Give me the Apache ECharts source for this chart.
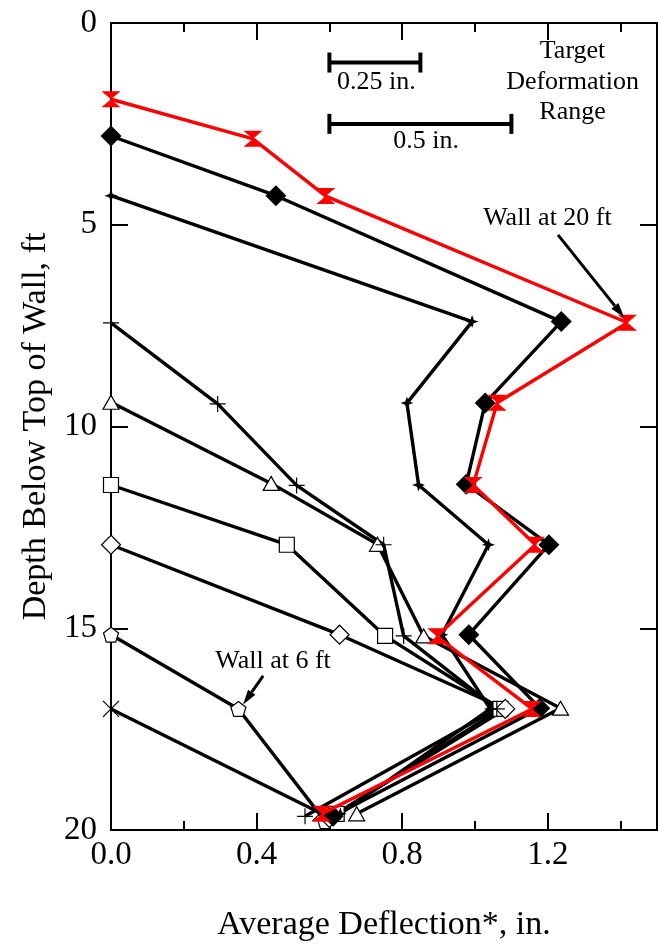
<!DOCTYPE html>
<html><head><meta charset="utf-8">
<script src="https://cdn.jsdelivr.net/npm/echarts@6/dist/echarts.min.js"></script>
<style>html,body{margin:0;padding:0;background:#fff}#c{width:658px;height:947px}</style>
</head><body><div id="c"></div>
<script>
// Depth (ft) and average deflection (in.) per wall series
const wall20X = [0, 0.39, 0.59, 1.419, 1.061, 0.995, 1.166, 0.895, 1.157, 0.579];
const wall20Y = [1.89, 2.87, 4.29, 7.43, 9.41, 11.45, 12.93, 15.2, 17.0, 19.6];
const bigDiamondX = [0, 0.453, 1.237, 1.028, 0.976, 1.203, 0.983, 1.178, 0.61];
const bigDiamondY = [2.80, 4.28, 7.40, 9.42, 11.43, 12.93, 15.16, 16.98, 19.66];
const starX = [0, 0.992, 0.813, 0.845, 1.037, 0.909, 1.042, 0.63];
const starY = [4.28, 7.40, 9.42, 11.45, 12.93, 15.16, 17.0, 19.6];
const plusX = [0, 0.293, 0.51, 0.749, 0.804, 1.06, 0.533];
const plusY = [7.43, 9.44, 11.46, 12.93, 15.19, 17.0, 19.66];
const triX = [0, 0.44, 0.732, 0.859, 1.235, 0.675];
const triY = [9.40, 11.41, 12.92, 15.19, 16.98, 19.6];
const squareX = [0, 0.483, 0.753, 1.07, 0.62];
const squareY = [11.45, 12.93, 15.19, 17.0, 19.6];
const openDiamondX = [0, 0.628, 1.083, 0.60];
const openDiamondY = [12.93, 15.16, 17.0, 19.7];
const pentX = [0, 0.35, 0.588];
const pentY = [15.16, 17.0, 19.78];
const crossX = [0, 0.575];
const crossY = [17.0, 19.58];

const xTicks = {min: 0, max: 1.5, interval: 0.4};
const yTicks = {min: 0, max: 20, interval: 5};

// annotation anchors in data units
const bar25 = {x0: 0.6, x1: 0.85, y: 0.98, text: '0.25 in.', tx: 0.729, ty: 1.47};
const bar50 = {x0: 0.6, x1: 1.1, y: 2.5, text: '0.5 in.', tx: 0.866, ty: 2.94};
const targetText = {x: 1.268, ys: [0.71, 1.47, 2.21], lines: ['Target', 'Deformation', 'Range']};
const wall20Note = {text: 'Wall at 20 ft', tx: 1.199, ty: 4.83, ax0: 1.228, ay0: 5.25, ax1: 1.41, ay1: 7.3};
const wall6Note = {text: 'Wall at 6 ft', tx: 0.445, ty: 15.81, ax0: 0.418, ay0: 16.18, ax1: 0.363, ay1: 16.89};

const FONT = 'Liberation Serif';
const zip = (xs, ys) => xs.map((x, i) => [x, ys[i]]);

const hourglass = 'path://M0,0 L20,0 L10,8 L20,16 L0,16 L10,8 Z';
const star4 = 'path://M10,0 L12.6,7.4 L20,10 L12.6,12.6 L10,20 L7.4,12.6 L0,10 L7.4,7.4 Z';
const pentagon = 'path://M10,0 L19.5,6.9 L15.9,18.1 L4.1,18.1 L0.5,6.9 Z';
const plusSym = 'path://M10,0 L10,20 M0,10 L20,10';
const crossSym = 'path://M0,0 L20,20 M20,0 L0,20';

function ser(name, xs, ys, symbol, size, opts) {
  opts = opts || {};
  return {
    name, type: 'line', data: zip(xs, ys), symbol, symbolSize: size,
    showAllSymbol: true, animation: false,
    lineStyle: {color: opts.line || '#000', width: 3.4},
    itemStyle: {color: opts.fill || '#000', borderColor: opts.border || (opts.fill || '#000'), borderWidth: opts.bw || 0},
    z: opts.z || 2
  };
}

const chart = echarts.init(document.getElementById('c'));
const axisLine = {show: true, onZero: false, lineStyle: {color: '#000', width: 2}};
const tick = {inside: true, length: 17, lineStyle: {color: '#000', width: 2}};
const minor = {show: true, splitNumber: 2, length: 9, lineStyle: {color: '#000', width: 2}};
chart.setOption({
  animation: false,
  backgroundColor: '#fff',
  grid: {left: 111, top: 23, right: 1, bottom: 108, containLabel: false},
  xAxis: [{
    type: 'value', min: xTicks.min, max: xTicks.max, interval: xTicks.interval, position: 'bottom',
    axisLine, splitLine: {show: false}, axisTick: tick, minorTick: minor,
    axisLabel: {color: '#000', fontFamily: FONT, fontSize: 33, margin: 9, showMaxLabel: false,
      formatter: v => v.toFixed(1)},
    name: 'Average Deflection*, in.', nameLocation: 'middle', nameGap: 78,
    nameTextStyle: {color: '#000', fontFamily: FONT, fontSize: 34}
  }, {
    type: 'value', min: xTicks.min, max: xTicks.max, interval: xTicks.interval, position: 'top',
    axisLine, splitLine: {show: false}, axisTick: tick, minorTick: minor,
    axisLabel: {show: false}
  }],
  yAxis: [{
    type: 'value', inverse: true, min: yTicks.min, max: yTicks.max, interval: yTicks.interval, position: 'left',
    axisLine, splitLine: {show: false}, axisTick: tick,
    axisLabel: {color: '#000', fontFamily: FONT, fontSize: 33, margin: 14},
    name: 'Depth Below Top of Wall, ft', nameLocation: 'middle', nameGap: 58, nameRotate: 90,
    nameTextStyle: {color: '#000', fontFamily: FONT, fontSize: 34}
  }, {
    type: 'value', inverse: true, min: yTicks.min, max: yTicks.max, interval: yTicks.interval, position: 'right',
    axisLine, splitLine: {show: false}, axisTick: tick,
    axisLabel: {show: false}
  }],
  series: [
    ser('cross', crossX, crossY, crossSym, 16, {fill: 'transparent', border: '#000', bw: 1.2}),
    ser('pentagon', pentX, pentY, pentagon, 15, {fill: '#fff', border: '#000', bw: 1.2}),
    ser('square', squareX, squareY, 'rect', 15, {fill: '#fff', border: '#000', bw: 1.2}),
    ser('openDiamond', openDiamondX, openDiamondY, 'diamond', 19, {fill: '#fff', border: '#000', bw: 1.2}),
    ser('triangle', triX, triY, 'triangle', [16, 14], {fill: '#fff', border: '#000', bw: 1.2}),
    ser('plus', plusX, plusY, plusSym, 16, {fill: 'transparent', border: '#000', bw: 1.2}),
    ser('star', starX, starY, star4, 13, {fill: '#000'}),
    ser('bigDiamond', bigDiamondX, bigDiamondY, 'diamond', 21, {fill: '#000'}),
    ser('wall20', wall20X, wall20Y, hourglass, [19, 16], {fill: '#ff0000', line: '#ff0000', z: 3})
  ]
});

function px(x, y) { return chart.convertToPixel({gridIndex: 0}, [x, y]); }
const g = [];
function textAt(t, x, y) {
  const p = px(x, y);
  g.push({type: 'text', x: p[0], y: p[1], z: 10,
    style: {text: t, fill: '#000', font: '26px "' + FONT + '"', align: 'center', verticalAlign: 'middle'}});
}
function bar(b) {
  const a = px(b.x0, b.y), c = px(b.x1, b.y);
  g.push({type: 'line', z: 10, shape: {x1: a[0], y1: a[1], x2: c[0], y2: c[1]}, style: {stroke: '#000', lineWidth: 4}});
  [a, c].forEach(p => g.push({type: 'line', z: 10, shape: {x1: p[0], y1: p[1] - 10, x2: p[0], y2: p[1] + 10}, style: {stroke: '#000', lineWidth: 4}}));
  textAt(b.text, b.tx, b.ty);
}
function arrow(n) {
  const a = px(n.ax0, n.ay0), b = px(n.ax1, n.ay1);
  const dx = b[0] - a[0], dy = b[1] - a[1], L = Math.hypot(dx, dy);
  const ux = dx / L, uy = dy / L, hl = 15, hw = 4.5;
  const bx = b[0] - ux * hl, by = b[1] - uy * hl;
  g.push({type: 'line', z: 10, shape: {x1: a[0], y1: a[1], x2: bx, y2: by}, style: {stroke: '#000', lineWidth: 3}});
  g.push({type: 'polygon', z: 10, shape: {points: [[b[0], b[1]], [bx - uy * hw, by + ux * hw], [bx + uy * hw, by - ux * hw]]}, style: {fill: '#000'}});
  textAt(n.text, n.tx, n.ty);
}
bar(bar25); bar(bar50);
targetText.lines.forEach((t, i) => textAt(t, targetText.x, targetText.ys[i]));
arrow(wall20Note); arrow(wall6Note);
chart.setOption({graphic: g});
</script></body></html>
